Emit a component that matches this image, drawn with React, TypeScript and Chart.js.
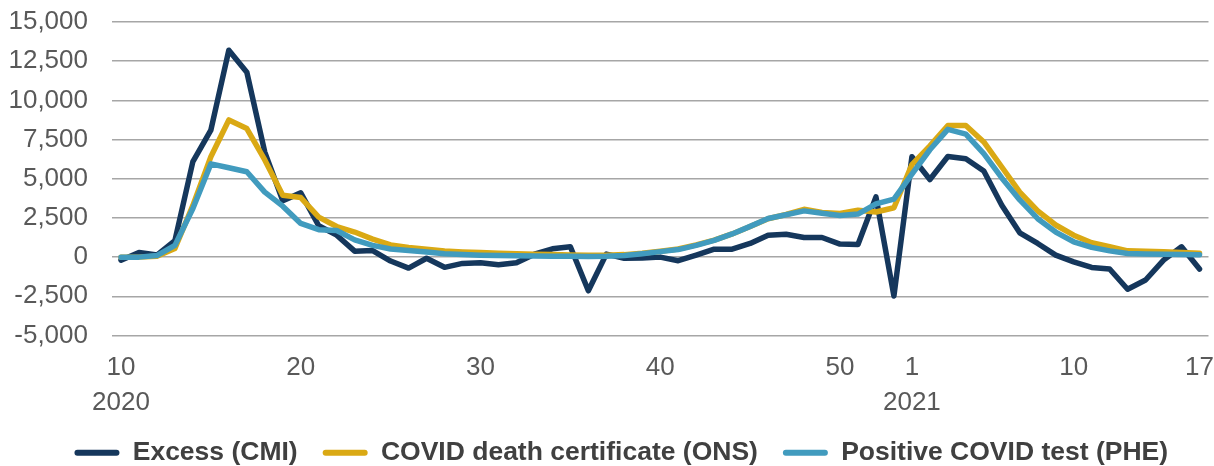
import React, { useEffect, useRef } from "react";
import { Chart, registerables } from "chart.js";

Chart.register(...registerables);

// ISO weeks shown on the x axis
const weeks2020 = [10, 11, 12, 13, 14, 15, 16, 17, 18, 19, 20, 21, 22, 23, 24, 25, 26, 27, 28, 29, 30, 31, 32, 33, 34, 35, 36, 37, 38, 39, 40, 41, 42, 43, 44, 45, 46, 47, 48, 49, 50, 51, 52, 53];
const weeks2021 = [1, 2, 3, 4, 5, 6, 7, 8, 9, 10, 11, 12, 13, 14, 15, 16, 17];

// Tick labels that are shown
const tickWeeks2020 = [10, 20, 30, 40, 50];
const tickWeeks2021 = [1, 10, 17];
const yearLabels = ["2020", "2021"];

// Series (weekly deaths)
const excessCMI = [
  -200, 300, 130, 1050, 6100, 8100, 13200, 11800, 6700, 3600,
  4100, 2000, 1400, 380, 420, -250, -700, -70, -650, -400,
  -360, -480, -360, 190, 530, 660, -2150, 190, -70, -50,
  0, -230, 130, 510, 510, 870, 1400, 1460, 1250, 1250,
  830, 800, 3840, -2480,
  6400, 4950, 6420, 6270, 5490, 3310, 1550, 870, 130, -300,
  -660, -760, -2050, -1460, -190, 660, -760,
];
const onsDeathCertificate = [
  0, 0, 50, 550, 3300, 6400, 8750, 8200, 6200, 3950,
  3800, 2550, 1950, 1600, 1150, 780, 620, 500, 390, 330,
  290, 250, 220, 190, 160, 140, 120, 120, 160, 250,
  380, 520, 780, 1080, 1480, 1950, 2450, 2720, 3050, 2850,
  2780, 2990, 2880, 3150,
  5900, 7100, 8400, 8400, 7350, 5750, 4150, 2950, 2050, 1400,
  920, 670, 400, 380, 350, 300, 250,
];
const pheTest = [
  0, 0, 100, 750, 3100, 5950, 5700, 5450, 4150, 3250,
  2150, 1750, 1700, 1100, 750, 520, 420, 320, 220, 160,
  120, 100, 80, 70, 60, 50, 40, 50, 110, 220,
  350, 480, 750, 1070, 1480, 1960, 2460, 2700, 2950, 2800,
  2650, 2750, 3400, 3700,
  5300, 6850, 8150, 7850, 6600, 5050, 3650, 2450, 1600, 980,
  620, 400, 230, 200, 180, 160, 150,
];

const seriesNames = ["Excess (CMI)", "COVID death certificate (ONS)", "Positive COVID test (PHE)"];
const seriesColors = ["#15375C", "#DAA914", "#419BBE"];

const yMin = -5000;
const yMax = 15000;
const yStep = 2500;

const categories = [
  ...weeks2020.map((w) => `2020-W${w}`),
  ...weeks2021.map((w) => `2021-W${w}`),
];

function tickLabel(index: number): string | string[] {
  if (index < weeks2020.length) {
    const w = weeks2020[index];
    if (!tickWeeks2020.includes(w)) return "";
    return index === 0 ? [String(w), yearLabels[0]] : String(w);
  }
  const j = index - weeks2020.length;
  const w = weeks2021[j];
  if (!tickWeeks2021.includes(w)) return "";
  return j === 0 ? [String(w), yearLabels[1]] : String(w);
}

const legendShift = {
  id: "legendShift",
  afterLayout(chart: any) {
    const l = chart.legend;
    if (l) {
      l.left += 32;
    }
  },
};

export default function App() {
  const canvasRef = useRef<HTMLCanvasElement | null>(null);

  useEffect(() => {
    document.body.style.margin = "0";
    const canvas = canvasRef.current;
    if (!canvas) return;
    const font = "'Liberation Sans', Arial, sans-serif";
    const seriesData = [excessCMI, onsDeathCertificate, pheTest];
    const chart = new Chart(canvas, {
      type: "line",
      data: {
        labels: categories,
        datasets: seriesData.map((d, i) => ({
          label: seriesNames[i],
          data: d,
          borderColor: seriesColors[i],
          backgroundColor: seriesColors[i],
          borderWidth: 5.5,
          pointRadius: 0,
          pointHoverRadius: 0,
          tension: 0,
          borderJoinStyle: "round" as const,
          borderCapStyle: "round" as const,
          order: 3 - i,
        })),
      },
      plugins: [legendShift],
      options: {
        responsive: false,
        animation: false,
        layout: { padding: { top: 22, left: 0, right: 3.5, bottom: -10 } },
        plugins: {
          tooltip: { enabled: false },
          legend: {
            position: "bottom",
            labels: {
              font: { family: font, size: 26.5, weight: "bold" },
              color: "#404040",
              boxWidth: 45,
              boxHeight: 6,
              padding: 25,
              useBorderRadius: true,
              borderRadius: 3,
              sort: (a: any, b: any) => a.datasetIndex - b.datasetIndex,
              generateLabels: (c: any) =>
                Chart.defaults.plugins.legend.labels
                  .generateLabels(c)
                  .map((l: any) => ({ ...l, lineWidth: 0, fillStyle: l.strokeStyle })),
            },
          },
        },
        scales: {
          x: {
            type: "category",
            offset: true,
            border: { display: false },
            grid: {
              display: true,
              drawOnChartArea: false,
              drawTicks: true,
              tickLength: 15,
              tickColor: "rgba(0,0,0,0)",
            },
            ticks: {
              autoSkip: false,
              maxRotation: 0,
              minRotation: 0,
              padding: 0,
              color: "#595959",
              font: { family: font, size: 26, lineHeight: 1.35 },
              callback: (_v: any, index: number) => tickLabel(index),
            },
            afterFit: (scale: any) => {
              scale.height = 79;
            },
          },
          y: {
            min: yMin,
            max: yMax,
            border: { display: false },
            grid: {
              color: "#A6A6A6",
              lineWidth: 1.5,
              drawTicks: true,
              tickLength: 24,
              tickColor: "rgba(0,0,0,0)",
            },
            ticks: {
              stepSize: yStep,
              padding: 0,
              color: "#595959",
              font: { family: font, size: 26 },
              callback: (v: any) => Number(v).toLocaleString("en-US"),
            },
            afterFit: (scale: any) => {
              scale.width = 112;
            },
          },
        },
      },
    });
    return () => chart.destroy();
  }, []);

  return (
    <div style={{ width: 1214, height: 466 }}>
      <canvas ref={canvasRef} width={1214} height={466} style={{ display: "block" }} />
    </div>
  );
}
